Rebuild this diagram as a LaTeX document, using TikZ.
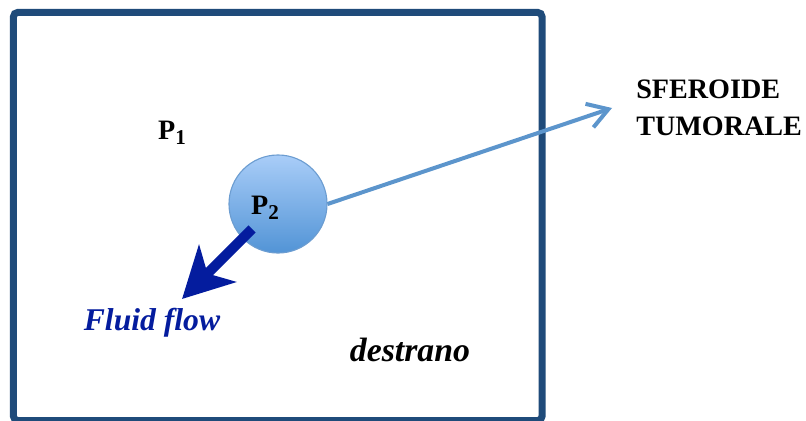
\documentclass[tikz,border=0pt]{standalone}
\usepackage{fontspec}
\setmainfont{Liberation Serif}
\usetikzlibrary{arrows.meta}
\definecolor{dishblue}{RGB}{31,75,122}
\definecolor{spheretop}{RGB}{169,205,248}
\definecolor{spherebot}{RGB}{82,148,214}
\definecolor{sphereline}{RGB}{108,157,209}
\definecolor{linkblue}{RGB}{92,149,204}
\definecolor{flowblue}{RGB}{4,28,158}
\newcommand{\psub}[1]{\raisebox{-0.35ex}{\fontsize{15}{15}\selectfont #1}}
\begin{document}
\begin{tikzpicture}[x=0.025cm,y=-0.025cm]

		\useasboundingbox (0,0) rectangle (806,420);

		\node (dish) at (277.75,216.5) [draw=dishblue,line width=0.175cm,rounded corners=3pt,
		minimum width=13.21cm, minimum height=10.2cm] {};

		\node (P1) at (172,133) {\fontsize{20}{24}\selectfont\bfseries P\psub{1}};

		\node (sph) at (278,204) [circle,draw=sphereline,thick,top color=spheretop,
		bottom color=spherebot,minimum size=2.45cm] {};
		\node (P2) at (265,208) {\fontsize{20}{24}\selectfont\bfseries P\psub{2}};

		\node (tum) at (636,108) [anchor=west,align=left,inner sep=0pt,
		font=\fontsize{20}{26.5}\selectfont\bfseries] {SFEROIDE\\TUMORALE};
		\coordinate (tumtip) at (612,108);
		\draw [linkblue,line width=0.1cm,-{Straight Barb[length=0.5cm,width=0.62cm]}] (sph.east) -- (tumtip);

		\coordinate (flowstart) at (252,229);
		\coordinate (flowend) at (182,299);
		\draw [flowblue,line width=0.25cm,-{Stealth[length=1.25cm,width=1.3cm,inset=0.35cm]}] (flowstart) -- (flowend);

		\node (flow) at (152,323) [font=\fontsize{22.5}{26}\selectfont\bfseries\itshape,text=flowblue] {Fluid flow};
		\node (dex) at (410,350) [font=\fontsize{24}{28}\selectfont\bfseries\itshape] {destrano};

		\end{tikzpicture}
\end{document}
